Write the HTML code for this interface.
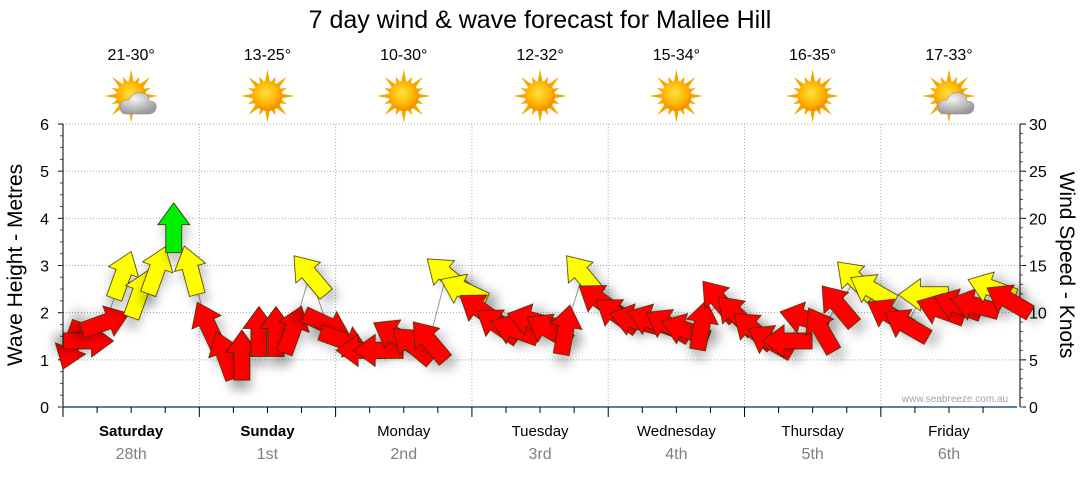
<!DOCTYPE html>
<html><head><meta charset="utf-8"><style>
body{margin:0;background:#fff;width:1080px;height:475px;overflow:hidden;font-family:"Liberation Sans",sans-serif}
text{font-family:"Liberation Sans","DejaVu Sans",sans-serif}
</style></head><body>
<svg id="c" width="1080" height="475" viewBox="0 0 1080 475">
<defs>
<filter id="sh" x="-50%" y="-50%" width="200%" height="200%"><feDropShadow dx="2" dy="10" stdDeviation="5" flood-color="#000" flood-opacity="0.22"/></filter>
<radialGradient id="sun" cx="45%" cy="40%" r="60%"><stop offset="0" stop-color="#ffe040"/><stop offset="0.6" stop-color="#ffb800"/><stop offset="1" stop-color="#f08a00"/></radialGradient>
<radialGradient id="cloud" cx="40%" cy="30%" r="70%"><stop offset="0" stop-color="#f4f4f4"/><stop offset="1" stop-color="#9a9a9a"/></radialGradient>
</defs>
<text x="540" y="28" text-anchor="middle" font-size="25" fill="#000">7 day wind &amp; wave forecast for Mallee Hill</text>
<g id="grid"></g><g id="axes"></g><g id="icons"></g><g id="marks"></g>
<text x="955" y="402" text-anchor="middle" font-size="10" fill="#9aa3b5">www.seabreeze.com.au</text>
<text transform="translate(22,265) rotate(-90)" text-anchor="middle" font-size="21" fill="#000">Wave Height - Metres</text>
<text transform="translate(1060,265) rotate(90)" text-anchor="middle" font-size="21" fill="#000">Wind Speed - Knots</text>
</svg>
<script>
const days=["Saturday","Sunday","Monday","Tuesday","Wednesday","Thursday","Friday"];
const dates=["28th","1st","2nd","3rd","4th","5th","6th"];
const temps=["21-30°","13-25°","10-30°","12-32°","15-34°","16-35°","17-33°"];
const cloudy=[true,false,false,false,false,false,true];
const waveTicks=[0,1,2,3,4,5,6];
const windTicks=[0,5,10,15,20,25,30];
const windSpeed=[6.5,7,9,14,12,14.5,19,14.5, 8.7,5.5,5.5,8,8,8.2,14,8.7, 7,6,6,7.6,6.6,7,14,12.4, 10.3,8.7,8.2,9.2,8.2,8.2,14,11.3, 9.8,9.2,9.2,8.7,8.2,8.7,11.3,9.8, 8.2,7,7,9.4,8.2,10.8,13.5,12.4, 9.8,8.7,11.9,10.3,10.8,10.8,12.6,11.3];
const windDir=[200,90,70,20,20,20,0,345, 335,340,0,0,0,20,320,115, 110,270,270,300,310,320,310,295, 305,305,290,285,300,10,320,305, 305,285,290,300,290,10,320,315, 310,300,270,285,330,320,315,300, 300,300,270,290,290,285,290,300];
const NS="http://www.w3.org/2000/svg";
const X0=63,X1=1020,Y0=407,Y1=124,dayW=(X1-X0)/7*0.997;
const xH=h=>X0+h/24*dayW;
const yM=m=>Y0-(m/6)*(Y0-Y1);
const yK=k=>Y0-(k/30)*(Y0-Y1);
function mk(tag,attrs,parent){const e=document.createElementNS(NS,tag);for(const k in attrs)e.setAttribute(k,attrs[k]);parent.appendChild(e);return e;}
const grid=document.getElementById('grid'),axes=document.getElementById('axes'),icons=document.getElementById('icons'),marks=document.getElementById('marks');
waveTicks.forEach(m=>{if(m>0){const l=mk('line',{x1:X0,x2:X1,y1:yM(m),y2:yM(m),stroke:'#aaa','stroke-dasharray':'1,2'},grid);

}
const t=mk('text',{x:X0-14,y:yM(m)+6,'text-anchor':'end','font-size':16,fill:'#000'},axes);t.textContent=m;


mk('line',{x1:X0-5,x2:X0,y1:yM(m),y2:yM(m),stroke:'#000'},axes);});
for(let q=0;q<24;q++)mk('line',{x1:X0-3,x2:X0,y1:yM(q/4),y2:yM(q/4),stroke:'#555'},axes);
windTicks.forEach(k=>{const t=mk('text',{x:X1+9,y:yK(k)+6,'font-size':16,fill:'#000'},axes);t.textContent=k;


mk('line',{x1:X1,x2:X1+6,y1:yK(k),y2:yK(k),stroke:'#000'},axes);});
for(let k=0;k<30;k++)mk('line',{x1:X1,x2:X1+3,y1:yK(k),y2:yK(k),stroke:'#555'},axes);
mk('line',{x1:X0,x2:X0,y1:Y1,y2:Y0,stroke:'#000'},axes);
mk('line',{x1:X1,x2:X1,y1:Y1,y2:Y0,stroke:'#000'},axes);
mk('line',{x1:X0,x2:X1-3,y1:Y0,y2:Y0,stroke:'#1a5a8a','stroke-width':1.5},axes);
for(let d=0;d<7;d++){
 if(d>0){const l=mk('line',{x1:xH(d*24),x2:xH(d*24),y1:Y1,y2:Y0,stroke:'#aaa','stroke-dasharray':'1,2'},grid);
 
 }
 mk('line',{x1:xH(d*24),x2:xH(d*24),y1:Y0,y2:Y0+10,stroke:'#000'},axes);
 for(let s=1;s<4;s++)mk('line',{x1:xH(d*24+s*6),x2:xH(d*24+s*6),y1:Y0,y2:Y0+6,stroke:'#000'},axes);
 const cx=xH(d*24+12);
 const t1=mk('text',{x:cx,y:436,'text-anchor':'middle','font-size':15,fill:'#000','font-weight':d<2?'bold':'normal'},axes);t1.textContent=days[d];
 
 
 const t2=mk('text',{x:cx,y:459,'text-anchor':'middle','font-size':16,fill:'#808080'},axes);t2.textContent=dates[d];
 
 
 const t3=mk('text',{x:cx,y:60,'text-anchor':'middle','font-size':16,fill:'#000'},icons);t3.textContent=temps[d];
 
 
 const g=mk('g',{transform:`translate(${cx},96)`},icons);
 
 
 for(let r=0;r<16;r++){const a=r*22.5,L=r%2?21:27;mk('polygon',{points:`-2.8,-12 2.8,-12 0,-${L}`,fill:'#f4a800',transform:`rotate(${a})`},g);}
 mk('circle',{cx:0,cy:0,r:15,fill:'url(#sun)'},g);
 if(cloudy[d]){mk('path',{d:'M-4,18 Q-12,18 -11,10 Q-10,3 -2,4 Q1,-5 11,-3 Q18,-2 18,5 Q26,5 25,12 Q24,18 17,18 Z',fill:'url(#cloud)',stroke:'#888','stroke-width':0.5},g);}
}
let pts=windSpeed.map((k,i)=>`${xH(i*3+1.5)},${yK(k)}`).join(' ');
mk('polyline',{points:pts,fill:'none',stroke:'#999','stroke-width':1},marks);
const col=k=>k>=17?'#00ee00':(k>=11.5?'#ffff00':'#ff0000');
windSpeed.forEach((k,i)=>{
 const cx=xH(i*3+1.5),cy=yK(k);
 const p=mk('polygon',{points:'-8,25 8,25 8,-3 16,-3 0,-25 -16,-3 -8,-3',fill:col(k),stroke:'#3a2a00','stroke-width':0.8,filter:'url(#sh)',transform:`translate(${cx},${cy}) rotate(${windDir[i]})`},marks);
 
 
});
</script>
</body></html>
